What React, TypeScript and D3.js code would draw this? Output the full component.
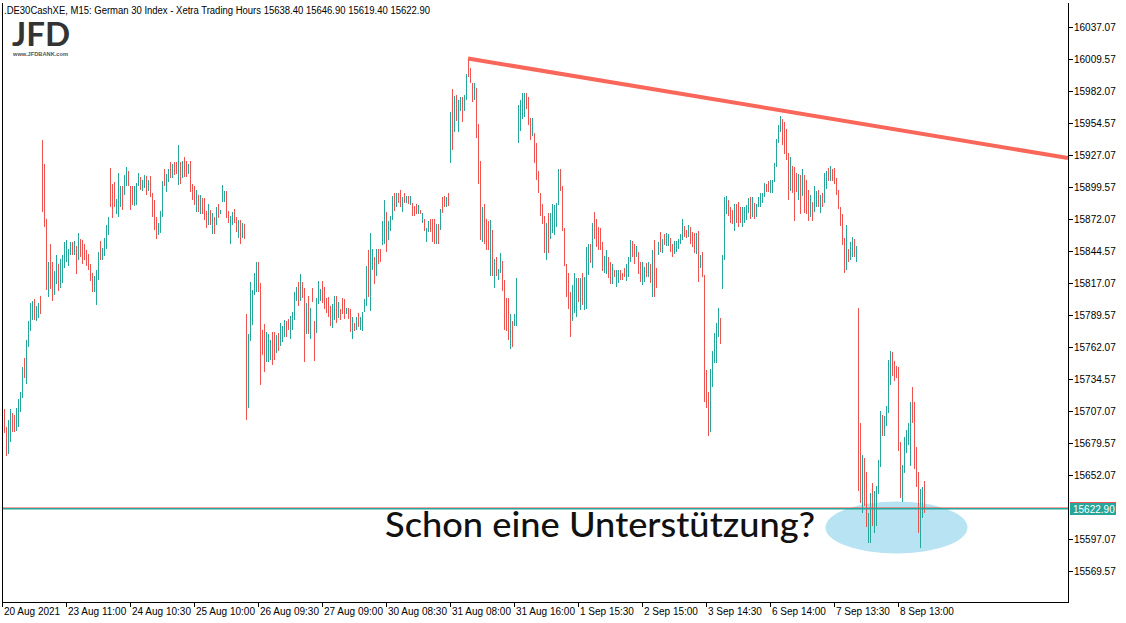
import React from "react";
import * as d3 from "d3";

// ---- data (M15 bars, high / low / direction) ----
const highs: number[] = [
  15709, 15693, 15699, 15709, 15705, 15704, 15710, 15717, 15723, 15745,
  15753, 15768, 15784, 15800, 15802, 15803, 15797, 15800, 15806, 15940,
  15919, 15872, 15835, 15851, 15835, 15827, 15841, 15833, 15838, 15841,
  15852, 15854, 15846, 15852, 15852, 15853, 15849, 15860, 15855, 15854,
  15851, 15845, 15842, 15833, 15826, 15823, 15828, 15844, 15853, 15847,
  15856, 15867, 15874, 15916, 15902, 15904, 15889, 15912, 15900, 15900,
  15910, 15917, 15913, 15900, 15900, 15900, 15903, 15912, 15908, 15906,
  15910, 15909, 15906, 15909, 15894, 15888, 15874, 15869, 15879, 15905,
  15915, 15911, 15915, 15921, 15919, 15921, 15921, 15936, 15921, 15922,
  15925, 15922, 15919, 15922, 15902, 15900, 15897, 15893, 15893, 15890,
  15890, 15879, 15885, 15880, 15877, 15874, 15882, 15885, 15880, 15901,
  15896, 15896, 15879, 15875, 15878, 15881, 15874, 15871, 15871, 15869,
  15868, 15790, 15773, 15818, 15811, 15826, 15835, 15835, 15817, 15777,
  15782, 15775, 15773, 15768, 15775, 15775, 15772, 15774, 15783, 15780,
  15785, 15784, 15786, 15789, 15792, 15809, 15814, 15818, 15825, 15818,
  15813, 15800, 15806, 15796, 15813, 15784, 15804, 15819, 15812, 15819,
  15814, 15804, 15805, 15797, 15799, 15806, 15806, 15801, 15795, 15804,
  15803, 15796, 15796, 15795, 15788, 15783, 15788, 15791, 15788, 15792,
  15803, 15832, 15845, 15860, 15846, 15839, 15846, 15846, 15846, 15870,
  15888, 15878, 15870, 15875, 15892, 15894, 15894, 15894, 15897, 15891,
  15894, 15892, 15892, 15892, 15886, 15883, 15885, 15884, 15880, 15877,
  15872, 15864, 15870, 15872, 15872, 15872, 15868, 15868, 15881, 15891,
  15892, 15891, 15894, 15964, 15984, 15978, 15979, 15974, 15977, 15977,
  15979, 15997, 16010, 16002, 15989, 15989, 15985, 15954, 15922, 15882,
  15885, 15872, 15870, 15871, 15863, 15838, 15839, 15829, 15843, 15836,
  15820, 15804, 15804, 15790, 15784, 15790, 15821, 15970, 15974, 15980,
  15980, 15980, 15977, 15959, 15959, 15946, 15937, 15913, 15894, 15885,
  15875, 15869, 15877, 15877, 15885, 15884, 15886, 15915, 15915, 15900,
  15864, 15833, 15826, 15809, 15815, 15826, 15821, 15821, 15821, 15826,
  15822, 15848, 15851, 15851, 15869, 15878, 15872, 15865, 15864, 15852,
  15840, 15845, 15839, 15835, 15833, 15828, 15828, 15828, 15828, 15826,
  15830, 15833, 15839, 15854, 15853, 15851, 15849, 15844, 15835, 15835,
  15831, 15834, 15835, 15833, 15845, 15854, 15830, 15852, 15861, 15855,
  15859, 15860, 15859, 15856, 15851, 15853, 15853, 15855, 15859, 15872,
  15866, 15863, 15867, 15865, 15861, 15860, 15860, 15862, 15841, 15844,
  15824, 15742, 15723, 15743, 15759, 15774, 15783, 15796, 15787, 15841,
  15891, 15892, 15888, 15882, 15880, 15885, 15885, 15887, 15882, 15882,
  15882, 15884, 15890, 15891, 15891, 15886, 15885, 15891, 15894, 15894,
  15903, 15902, 15905, 15906, 15906, 15920, 15941, 15953, 15961, 15958,
  15955, 15949, 15929, 15925, 15918, 15917, 15912, 15911, 15910, 15915,
  15910, 15906, 15897, 15893, 15887, 15900, 15896, 15897, 15893, 15894,
  15912, 15913, 15916, 15918, 15915, 15916, 15907, 15897, 15882, 15876,
  15856, 15867, 15846, 15852, 15857, 15855, 15849, 15796, 15697, 15669,
  15667, 15655, 15619, 15637, 15645, 15638, 15643, 15665, 15707, 15704,
  15703, 15711, 15751, 15759, 15758, 15750, 15746, 15745, 15680, 15661,
  15685, 15691, 15697, 15715, 15728, 15715, 15676, 15655, 15640, 15642, 15646.9,
];

const lows: number[] = [
  15688, 15668, 15670, 15680, 15689, 15689, 15690, 15693, 15706, 15718,
  15735, 15730, 15762, 15776, 15785, 15785, 15784, 15787, 15790, 15878,
  15865, 15811, 15805, 15812, 15802, 15807, 15816, 15810, 15813, 15817,
  15830, 15835, 15832, 15841, 15841, 15841, 15825, 15837, 15839, 15833,
  15837, 15832, 15828, 15819, 15809, 15809, 15798, 15820, 15837, 15837,
  15840, 15846, 15858, 15882, 15873, 15882, 15876, 15874, 15882, 15880,
  15893, 15900, 15900, 15880, 15884, 15883, 15884, 15900, 15897, 15896,
  15899, 15893, 15896, 15891, 15874, 15863, 15855, 15858, 15860, 15874,
  15900, 15895, 15904, 15907, 15907, 15910, 15911, 15901, 15902, 15907,
  15908, 15908, 15911, 15895, 15888, 15884, 15878, 15878, 15876, 15876,
  15871, 15864, 15867, 15867, 15859, 15859, 15867, 15873, 15876, 15887,
  15887, 15873, 15869, 15851, 15867, 15869, 15861, 15856, 15851, 15856,
  15855, 15699, 15710, 15767, 15781, 15807, 15809, 15809, 15729, 15755,
  15741, 15749, 15749, 15751, 15747, 15751, 15757, 15759, 15763, 15766,
  15771, 15771, 15777, 15769, 15777, 15785, 15802, 15797, 15802, 15804,
  15749, 15773, 15773, 15769, 15801, 15750, 15774, 15799, 15802, 15800,
  15795, 15791, 15788, 15780, 15778, 15785, 15783, 15787, 15785, 15790,
  15786, 15790, 15786, 15775, 15769, 15776, 15777, 15779, 15777, 15776,
  15792, 15797, 15805, 15793, 15828, 15816, 15823, 15833, 15835, 15850,
  15851, 15844, 15854, 15862, 15871, 15879, 15882, 15886, 15882, 15878,
  15886, 15886, 15885, 15884, 15875, 15875, 15876, 15876, 15876, 15869,
  15862, 15852, 15861, 15861, 15852, 15851, 15851, 15851, 15863, 15877,
  15882, 15882, 15883, 15920, 15931, 15947, 15956, 15947, 15965, 15955,
  15965, 15974, 15994, 15989, 15973, 15974, 15942, 15902, 15854, 15852,
  15851, 15845, 15845, 15823, 15823, 15813, 15823, 15820, 15826, 15810,
  15777, 15776, 15768, 15760, 15762, 15780, 15780, 15937, 15948, 15958,
  15960, 15967, 15953, 15940, 15943, 15920, 15906, 15894, 15875, 15868,
  15843, 15837, 15843, 15855, 15860, 15858, 15865, 15884, 15896, 15862,
  15832, 15805, 15795, 15771, 15784, 15791, 15788, 15801, 15794, 15798,
  15794, 15795, 15824, 15834, 15830, 15855, 15848, 15845, 15845, 15827,
  15826, 15825, 15821, 15816, 15816, 15822, 15814, 15817, 15820, 15820,
  15822, 15819, 15822, 15835, 15839, 15833, 15839, 15825, 15818, 15815,
  15818, 15822, 15822, 15817, 15805, 15805, 15813, 15841, 15844, 15843,
  15850, 15849, 15849, 15844, 15839, 15842, 15844, 15846, 15851, 15854,
  15857, 15856, 15857, 15851, 15848, 15843, 15842, 15818, 15830, 15822,
  15715, 15710, 15686, 15689, 15728, 15748, 15748, 15771, 15765, 15812,
  15837, 15876, 15875, 15869, 15868, 15862, 15869, 15865, 15869, 15865,
  15869, 15871, 15877, 15872, 15874, 15872, 15874, 15882, 15882, 15886,
  15891, 15895, 15895, 15894, 15894, 15904, 15917, 15937, 15947, 15936,
  15928, 15923, 15888, 15896, 15894, 15870, 15895, 15888, 15876, 15892,
  15877, 15876, 15870, 15874, 15870, 15878, 15882, 15882, 15877, 15882,
  15886, 15898, 15905, 15905, 15905, 15902, 15893, 15881, 15866, 15850,
  15826, 15828, 15835, 15837, 15839, 15839, 15835, 15638, 15628, 15619,
  15625, 15607, 15594, 15594, 15608, 15602, 15608, 15636, 15659, 15686,
  15686, 15694, 15705, 15729, 15737, 15733, 15735, 15673, 15632, 15629,
  15654, 15671, 15678, 15660, 15697, 15657, 15642, 15602, 15589, 15615, 15619.4,
];

// u = bar closed up, d = bar closed down
const dirGroups: string[] = [
  "dduudduuuu", "duuuuduudd", "ddudduuduu", "uuuudududd", "ddddduuudu",
  "uuuddduuud", "uuddduuudu", "ududddduuu", "duududdudu", "ddudddudud",
  "ddudududuu", "udduuddudu", "dduuuuuddd", "duuudduduu", "udduuuudud",
  "dududduuud", "dddduududd", "duddududuu", "uuduududdu", "uduuududdu",
  "dududddudu", "duudddudud", "dudududuud", "uudddudddu", "dddududuud",
  "ddduduuuuu", "uddduddddd", "duduuuuudd", "dddduuudud", "uuududdddd",
  "uudduduudd", "duuudduddu", "udududdudu", "duudduuuuu", "ddudddudud",
  "ddduuuuudu", "uudddudddu", "uuududuuuu", "udduuuuuud", "dddudddudu",
  "ddduduudud", "uududddddd", "duduududdu", "dduuduuuud", "uuuudddddu",
  "uuuudddduud",
];
const dirs: string[] = dirGroups.join("").split("");

const priceTicks: number[] = [
  16037.07, 16009.57, 15982.07, 15954.57, 15927.07, 15899.57, 15872.07,
  15844.57, 15817.07, 15789.57, 15762.07, 15734.57, 15707.07, 15679.57,
  15652.07, 15597.07, 15569.57,
];
const timeLabels: string[] = [
  "20 Aug 2021", "23 Aug 11:00", "24 Aug 10:30", "25 Aug 10:00", "26 Aug 09:30",
  "27 Aug 09:00", "30 Aug 08:30", "31 Aug 08:00", "31 Aug 16:00", "1 Sep 15:30",
  "2 Sep 15:00", "3 Sep 14:30", "6 Sep 14:00", "7 Sep 13:30", "8 Sep 13:00",
];
const barsPerLabel = 32;
const lastPrice = 15622.9;
const titleText =
  ".DE30CashXE, M15:  German 30 Index  - Xetra Trading Hours  15638.40 15646.90 15619.40 15622.90";
const trendIdx: number[] = [232, 532];
const trendPrice: number[] = [16010, 15924.5];
const zoneIdx = 446;
const zonePrice = 15607;
const annotation = "Schon eine Unterstützung?";

const W = 1126;
const H = 623;
const UP = "#26a69a";
const DOWN = "#ef5350";
const FONT = "'Liberation Sans', Arial, sans-serif";

export default function App() {
  const x = d3.scaleLinear().domain([0, 1]).range([4, 6]);
  const y = d3.scaleLinear().domain([15569.57, 16037.07]).range([571, 27]);
  const left = 2;
  const right = 1068;
  const bottom = 602;
  const yLast = Math.round(y(lastPrice)) - 1;

  const trendLine = d3
    .line<number>()
    .x((d) => Math.min(right, x(trendIdx[d])))
    .y((d) => y(trendPrice[d]));

  return (
    <svg
      width={W}
      height={H}
      style={{ position: "absolute", left: 0, top: 0, background: "#fff" }}
      fontFamily={FONT}
    >
      <rect x={0} y={0} width={W} height={H} fill="#fff" />
      <defs>
        <clipPath id="plot">
          <rect x={left} y={0} width={right - left} height={bottom} />
        </clipPath>
      </defs>

      {/* highlight zone */}
      <ellipse
        cx={x(zoneIdx) + 0.5}
        cy={y(zonePrice)}
        rx={71}
        ry={26}
        fill="#b8e3f3"
      />

      {/* bars */}
      <g clipPath="url(#plot)">
        {highs.map((h, i) => {
          const y0 = Math.round(y(h));
          const y1 = Math.round(y(lows[i]));
          return (
            <rect
              key={i}
              x={x(i)}
              y={y0}
              width={1}
              height={Math.max(1, y1 - y0)}
              fill={dirs[i] === "u" ? UP : DOWN}
            />
          );
        })}
      </g>

      {/* current price line */}
      <line x1={left} x2={right} y1={yLast - 0.5} y2={yLast - 0.5} stroke={DOWN} strokeOpacity={0.55} strokeWidth={1} />
      <line x1={left} x2={right} y1={yLast + 0.75} y2={yLast + 0.75} stroke={UP} strokeWidth={1.5} />

      {/* trend line */}
      <g clipPath="url(#plot)">
        <path
          d={trendLine([0, 1]) || ""}
          stroke="#f9665a"
          strokeWidth={4}
          fill="none"
          strokeLinecap="butt"
        />
      </g>

      {/* frame */}
      <line x1={left + 0.5} x2={left + 0.5} y1={3} y2={bottom + 0.5} stroke="#000" />
      <line x1={right + 0.5} x2={right + 0.5} y1={3} y2={bottom + 0.5} stroke="#000" />
      <line x1={left} x2={right + 1} y1={bottom + 0.5} y2={bottom + 0.5} stroke="#000" />

      {/* price axis */}
      {priceTicks.map((p) => {
        const yy = Math.round(y(p)) + 0.5;
        return (
          <g key={p}>
            <line x1={right + 1} x2={right + 5} y1={yy} y2={yy} stroke="#000" />
            <text x={1074} y={yy} dy="0.35em" fontSize={10} fill="#000">
              {p.toFixed(2)}
            </text>
          </g>
        );
      })}
      <rect x={1070} y={yLast - 6} width={46} height={13} fill={UP} />
      <line x1={1070} x2={1116} y1={yLast - 5.5} y2={yLast - 5.5} stroke={DOWN} />
      <text x={1073} y={yLast + 1} dy="0.38em" fontSize={10} fill="#fff">
        {lastPrice.toFixed(2)}
      </text>

      {/* time axis */}
      {timeLabels.map((t, k) => {
        const xx = x(k * barsPerLabel) - 2 + 0.5;
        return (
          <g key={t}>
            <line x1={xx} x2={xx} y1={bottom} y2={bottom + 5} stroke="#000" />
            <text x={xx + 1.5} y={615} fontSize={10} fill="#000">
              {t}
            </text>
          </g>
        );
      })}

      {/* title */}
      <text
        x={4}
        y={14}
        fontSize={10}
        fill="#000"
        textLength={426}
        lengthAdjust="spacingAndGlyphs"
      >
        {titleText}
      </text>

      {/* logo */}
      <text
        x={12}
        y={46}
        fontSize={33}
        fontWeight={700}
        fontFamily="Lato, 'Open Sans', sans-serif"
        fill="#333"
        textLength={58}
        lengthAdjust="spacingAndGlyphs"
      >
        JFD
      </text>
      <text
        x={13}
        y={56}
        fontSize={6}
        fontWeight={700}
        fill="#555"
        textLength={55}
        lengthAdjust="spacingAndGlyphs"
      >
        www.JFDBANK.com
      </text>

      {/* annotation */}
      <text
        x={385}
        y={537}
        fontSize={35}
        fontFamily="Lato, 'Noto Sans', sans-serif"
        fontWeight={500}
        fill="#111"
        textLength={430}
        lengthAdjust="spacingAndGlyphs"
      >
        {annotation}
      </text>
    </svg>
  );
}
